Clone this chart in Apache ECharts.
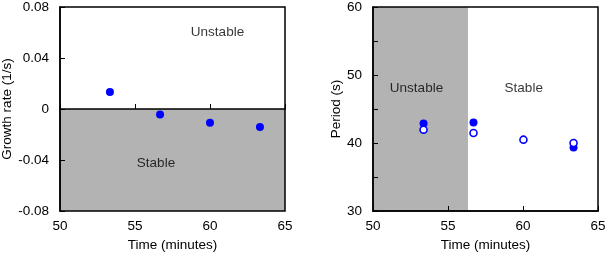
<!DOCTYPE html>
<html>
<head>
<meta charset="utf-8">
<script src="https://cdn.jsdelivr.net/npm/echarts@6/dist/echarts.min.js"></script>
<style>
html,body{margin:0;padding:0;background:#fff;}
#chart{width:608px;height:253px;}
</style>
</head>
<body>
<div id="chart"></div>
<script>
// ---- Data ----
const growthTimes = [53.33, 56.67, 60.0, 63.33];
const growthRates = [0.0133, -0.0043, -0.0107, -0.0141];

const periodFilledTimes = [53.37, 56.7, 63.37];
const periodFilled = [42.85, 43.03, 39.35];
const periodOpenTimes = [53.37, 56.7, 60.03, 63.37];
const periodOpen = [41.96, 41.47, 40.49, 40.0];

const growthRegionLabels = ['Unstable', 'Stable'];
const growthRegionLabelX = [60.5, 56.4];
const growthRegionLabelY = [0.06, -0.0424];

const periodRegionLabels = ['Unstable', 'Stable'];
const periodRegionLabelX = [52.9, 60.05];
const periodRegionLabelY = [48.1, 48.1];

const growthStableBoundary = 0;     // growth rate below this is stable
const periodUnstableEnd = 56.33;    // time before this is unstable

const xTickRange = [50, 65];
const growthRange = [-0.08, 0.08];
const periodRange = [30, 60];

// ---- Chart ----
const FONT = 'Liberation Sans, Arial, Helvetica, sans-serif';
const FS = 13.5;
const chart = echarts.init(document.getElementById('chart'), null, {renderer: 'canvas'});

function xAxisDef(gridIndex) {
  return {
    type: 'value', gridIndex, min: xTickRange[0], max: xTickRange[1], interval: 5,
    name: 'Time (minutes)', nameLocation: 'middle', nameGap: 23,
    nameTextStyle: {color: '#000', fontSize: FS, fontFamily: FONT},
    axisLine: {show: true, lineStyle: {color: '#000', width: 1.5}},
    axisTick: {show: true, inside: true, length: 5, lineStyle: {color: '#000'}},
    axisLabel: {color: '#000', fontSize: FS, fontFamily: FONT, margin: 8},
    splitLine: {show: false}, z: 10
  };
}

function labelSeries(idx, names, xs, ys) {
  return {
    type: 'scatter', xAxisIndex: idx, yAxisIndex: idx, symbol: 'circle', symbolSize: 1,
    itemStyle: {color: 'rgba(0,0,0,0)'}, silent: true,
    data: names.map((t, i) => ({value: [xs[i], ys[i]], name: t})),
    label: {show: true, position: 'inside', formatter: p => p.name, color: '#000', fontSize: FS, fontFamily: FONT},
    z: 4
  };
}

const gridBase = {top: 7, width: 225, height: 204, show: true, borderColor: '#000', borderWidth: 1.5,
  backgroundColor: 'transparent', z: 10, containLabel: false, outerBoundsMode: 'none'};

const option = {
  animation: false,
  backgroundColor: '#fff',
  grid: [
    Object.assign({left: 60}, gridBase),
    Object.assign({left: 373}, gridBase)
  ],
  xAxis: [xAxisDef(0), xAxisDef(1)],
  yAxis: [
    {
      type: 'value', gridIndex: 0, min: growthRange[0], max: growthRange[1], interval: 0.04,
      name: 'Growth rate (1/s)', nameLocation: 'middle', nameGap: 44,
      nameTextStyle: {color: '#000', fontSize: FS, fontFamily: FONT},
      axisLine: {show: true, lineStyle: {color: '#000', width: 1.5}},
      axisTick: {show: true, inside: true, length: 5, lineStyle: {color: '#000'}},
      axisLabel: {color: '#000', fontSize: FS, fontFamily: FONT, margin: 11,
        formatter: v => Math.abs(v) < 1e-9 ? '0' : v.toFixed(2)},
      splitLine: {show: false}, z: 10
    },
    {
      type: 'value', gridIndex: 1, min: periodRange[0], max: periodRange[1], interval: 5,
      name: 'Period (s)', nameLocation: 'middle', nameGap: 30,
      nameTextStyle: {color: '#000', fontSize: FS, fontFamily: FONT},
      axisLine: {show: true, lineStyle: {color: '#000', width: 1.5}},
      axisTick: {show: true, inside: true, length: 5, lineStyle: {color: '#000'}},
      axisLabel: {color: '#000', fontSize: FS, fontFamily: FONT, margin: 11,
        formatter: v => (Math.round(v) % 10 === 0 ? String(Math.round(v)) : '')},
      splitLine: {show: false}, z: 10
    }
  ],
  series: [
    {
      type: 'scatter', xAxisIndex: 0, yAxisIndex: 0, symbolSize: 0, silent: true,
      data: [],
      markArea: {
        silent: true,
        itemStyle: {color: '#b3b3b3', opacity: 1},
        data: [[{coord: [xTickRange[0], growthRange[0]]}, {coord: [xTickRange[1], growthStableBoundary]}]]
      }
    },
    {
      type: 'scatter', xAxisIndex: 1, yAxisIndex: 1, symbolSize: 0, silent: true,
      data: [],
      markArea: {
        silent: true,
        itemStyle: {color: '#b3b3b3', opacity: 1},
        data: [[{coord: [xTickRange[0], periodRange[0]]}, {coord: [periodUnstableEnd, periodRange[1]]}]]
      }
    },
    labelSeries(0, growthRegionLabels, growthRegionLabelX, growthRegionLabelY),
    labelSeries(1, periodRegionLabels, periodRegionLabelX, periodRegionLabelY),
    {
      type: 'scatter', xAxisIndex: 0, yAxisIndex: 0, symbol: 'circle', symbolSize: 8,
      itemStyle: {color: '#0000ff', opacity: 1},
      data: growthTimes.map((t, i) => [t, growthRates[i]])
    },
    {
      type: 'scatter', xAxisIndex: 1, yAxisIndex: 1, symbol: 'circle', symbolSize: 8,
      itemStyle: {color: '#0000ff', opacity: 1},
      data: periodFilledTimes.map((t, i) => [t, periodFilled[i]])
    },
    {
      type: 'scatter', xAxisIndex: 1, yAxisIndex: 1, symbol: 'circle', symbolSize: 7,
      itemStyle: {color: '#ffffff', borderColor: '#0000ff', borderWidth: 1.6, opacity: 1},
      data: periodOpenTimes.map((t, i) => [t, periodOpen[i]]), z: 3
    }
  ]
};
chart.setOption(option);
</script>
</body>
</html>
